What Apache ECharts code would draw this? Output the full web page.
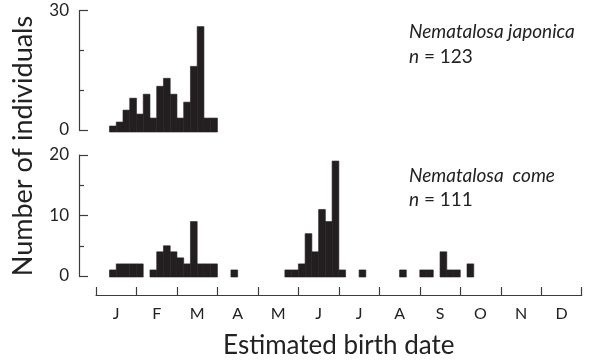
<!DOCTYPE html>
<html>
<head>
<meta charset="utf-8">
<script src="https://cdn.jsdelivr.net/npm/echarts@6/dist/echarts.min.js"></script>
<style>html,body{margin:0;padding:0;background:#fff}#c{width:591px;height:362px}</style>
</head>
<body>
<div id="c"></div>
<script>
// 5-day bins (6 per month, 72 per year), counts starting at bin 0 (Jan 1-5)
const months = ['J','F','M','A','M','J','J','A','S','O','N','D'];
const japonicaCounts = [0,0,1,2,5,8,4,9,3,11,13,9,3,7,16,26,3,3];
const comeCounts = [0,0,1,2,2,2,2,0,1,4,5,4,3,2,9,2,2,2,0,0,1,0,0,0,0,0,0,0,1,1,2,7,4,11,9,19,1,0,0,1,0,0,0,0,0,1,0,0,1,1,0,4,1,1,0,2];
const japonicaTicks = [0, 30];
const comeTicks = [0, 10, 20];
const japonicaLabel = ['Nematalosa japonica', '123'];
const comeLabel = ['Nematalosa  come', '111'];

const FONT = 'Lato';
const INK = '#231f20';
const AX = '#3c3c3c';

function toPairs(arr){ const out=[]; arr.forEach((v,i)=>{ if(v>0) out.push([i,v]); }); return out; }
function renderer(ext){
  return function(params, api){
    const i = api.value(0), v = api.value(1);
    const p0 = api.coord([i, 0]);
    const p1 = api.coord([i + 1, v]);
    return {type:'rect', shape:{x:p0[0], y:p1[1], width:p1[0]-p0[0], height:p0[1]-p1[1]+ext},
      style:{fill:INK, stroke:INK, lineWidth:0.6}};
  };
}
function yAx(gi, max, interval, ticks, minorSplit){
  return {
    gridIndex: gi, type:'value', min:0, max:max, interval:interval, offset:17,
    axisLine:{show:true, onZero:false, lineStyle:{color:AX, width:1.2}},
    axisTick:{show:true, inside:true, length:9, lineStyle:{color:AX, width:1.2}},
    minorTick:{show:true, splitNumber:minorSplit, length:5, lineStyle:{color:AX, width:1.2}},
    splitLine:{show:false},
    axisLabel:{margin:10, fontFamily:FONT, fontSize:17, color:'#222',
      formatter: v => ticks.includes(v) ? String(v) : ''}
  };
}
const richBase = {fontFamily:FONT, fontWeight:'normal', fontSize:19, color:'#222'};

const chart = echarts.init(document.getElementById('c'));
chart.setOption({
  animation:false,
  grid:[
    {left:96, top:10.7, width:485.7, height:119.3, outerBoundsMode:'none', containLabel:false},
    {left:96, top:155, width:485.7, height:121, outerBoundsMode:'none', containLabel:false}
  ],
  xAxis:[
    {gridIndex:0, type:'value', min:0, max:72, show:false},
    {gridIndex:1, type:'value', min:0, max:72, interval:6, position:'bottom', offset:19,
      axisLine:{show:true, onZero:false, lineStyle:{color:AX, width:1.2}},
      axisTick:{show:true, inside:true, length:8, lineStyle:{color:AX, width:1.2}},
      axisLabel:{show:false}, splitLine:{show:false},
      name:'Estimated birth date', nameLocation:'middle', nameGap:38,
      nameTextStyle:{fontFamily:FONT, fontSize:26, color:'#222'}},
    {gridIndex:1, type:'category', data:months, position:'bottom', offset:19,
      axisLine:{show:false, onZero:false}, axisTick:{show:false},
      axisLabel:{margin:11, fontFamily:FONT, fontSize:16, color:'#222'}}
  ],
  yAxis:[
    yAx(0, 30, 30, japonicaTicks, 3),
    yAx(1, 20, 10, comeTicks, 2)
  ],
  graphic:[{
    type:'text', rotation:Math.PI/2, x:23, y:146,
    style:{text:'Number of individuals', fontFamily:FONT, fontSize:27, fill:'#222', align:'center', verticalAlign:'middle'}
  }],
  title:[
    {left:404, top:14, text:'{i|'+japonicaLabel[0]+'}\n{i|n}{r| = '+japonicaLabel[1]+'}',
      textStyle:{fontWeight:'normal', rich:{i:Object.assign({fontStyle:'italic', lineHeight:25}, richBase),
                      r:Object.assign({lineHeight:25}, richBase)}}},
    {left:404, top:159, text:'{i|'+comeLabel[0]+'}\n{i|n}{r| = '+comeLabel[1]+'}',
      textStyle:{fontWeight:'normal', rich:{i:Object.assign({fontStyle:'italic', lineHeight:24}, richBase),
                      r:Object.assign({lineHeight:24}, richBase)}}}
  ],
  series:[
    {type:'custom', xAxisIndex:0, yAxisIndex:0, data:toPairs(japonicaCounts), renderItem:renderer(2), clip:false},
    {type:'custom', xAxisIndex:1, yAxisIndex:1, data:toPairs(comeCounts), renderItem:renderer(1), clip:false}
  ]
});
</script>
</body>
</html>
